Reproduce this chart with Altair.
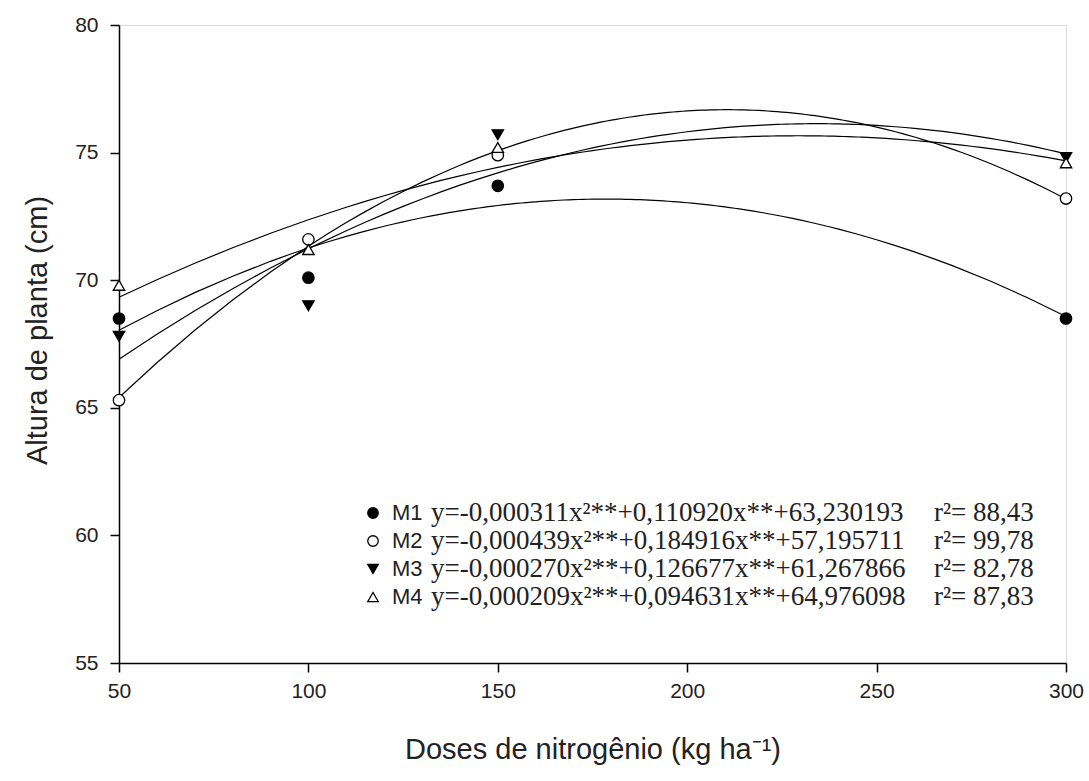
import altair as alt
import pandas as pd

doses = [50, 100, 150, 300]
series = ["M1", "M2", "M3", "M4"]
m1 = [68.5, 70.1, 73.7, 68.5]
m2 = [65.3, 71.6, 74.9, 73.2]
m3 = [67.8, 69.0, 75.7, 74.8]
m4 = [69.8, 71.2, 75.2, 74.6]
equations = [
    "y=-0,000311x²**+0,110920x**+63,230193",
    "y=-0,000439x²**+0,184916x**+57,195711",
    "y=-0,000270x²**+0,126677x**+61,267866",
    "y=-0,000209x²**+0,094631x**+64,976098",
]
r2 = ["r²= 88,43", "r²= 99,78", "r²= 82,78", "r²= 87,83"]
x_ticks = [50, 100, 150, 200, 250, 300]
y_ticks = [55, 60, 65, 70, 75, 80]

rows = []
for s, vals in zip(series, [m1, m2, m3, m4]):
    for d, v in zip(doses, vals):
        rows.append({"serie": s, "dose": d, "altura": v})
df = pd.DataFrame(rows)

leg = pd.DataFrame({"serie": series, "row": [0, 1, 2, 3], "eq": equations, "r2": r2})

SANS = "Liberation Sans"
SERIF = "Liberation Serif"

shape_scale = alt.Scale(domain=series, range=["circle", "circle", "triangle-down", "triangle-up"])
fill_scale = alt.Scale(domain=series, range=["black", "white", "black", "white"])

x_enc = alt.X("dose:Q", scale=alt.Scale(domain=[50, 300], nice=False, zero=False),
              axis=alt.Axis(values=x_ticks, title="Doses de nitrogênio (kg ha⁻¹)", grid=False,
                            domainColor="black", domainWidth=1.5, tickColor="black", tickWidth=1.5,
                            tickSize=9, labelPadding=8, labelFont=SANS, labelFontSize=21,
                            labelColor="#222", titleFont=SANS, titleFontSize=29,
                            titleFontWeight="normal", titleColor="#222", titlePadding=34,
                            labelFlush=False))
y_enc = alt.Y("altura:Q", scale=alt.Scale(domain=[55, 80], nice=False, zero=False),
              axis=alt.Axis(values=y_ticks, title="Altura de planta (cm)", grid=False,
                            domainColor="black", domainWidth=1.5, tickColor="black", tickWidth=1.5,
                            tickSize=9, labelPadding=12, labelFont=SANS, labelFontSize=21,
                            labelColor="#222", titleFont=SANS, titleFontSize=29,
                            titleFontWeight="normal", titleColor="#222", titlePadding=22,
                            titleY=305, labelFlush=False))

lines = alt.Chart(df).transform_regression(
    "dose", "altura", method="poly", order=2, groupby=["serie"], extent=[50, 300]
).mark_line(color="black", strokeWidth=1.2).encode(x=x_enc, y=y_enc, detail="serie:N")

points = alt.Chart(df).mark_point(size=130, stroke="black", strokeWidth=1.3, opacity=1).encode(
    x=x_enc, y=y_enc,
    shape=alt.Shape("serie:N", scale=shape_scale, legend=None),
    fill=alt.Fill("serie:N", scale=fill_scale, legend=None),
)

main = alt.layer(lines, points)

ly = alt.Y("row:O", scale=alt.Scale(range=[488, 572], padding=0), axis=None)
leg_sym = alt.Chart(leg).mark_point(size=110, stroke="black", strokeWidth=1.3, opacity=1).encode(
    x=alt.value(254), y=ly,
    shape=alt.Shape("serie:N", scale=shape_scale, legend=None),
    fill=alt.Fill("serie:N", scale=fill_scale, legend=None),
)
leg_name = alt.Chart(leg).mark_text(align="left", baseline="middle", font=SANS, fontSize=22,
                                     color="#222").encode(x=alt.value(273), y=ly, text="serie:N")
leg_eq = alt.Chart(leg).mark_text(align="left", baseline="middle", font=SERIF, fontSize=27,
                                   color="#222").encode(x=alt.value(312), y=ly, text="eq:N")
leg_r2 = alt.Chart(leg).mark_text(align="left", baseline="middle", font=SERIF, fontSize=27,
                                   color="#222").encode(x=alt.value(815), y=ly, text="r2:N")
legend = alt.layer(leg_sym, leg_name, leg_eq, leg_r2)

chart = alt.layer(main, legend).resolve_scale(y="independent").properties(
    width=947, height=638,
    autosize=alt.AutoSizeParams(type="none"),
    padding={"left": 119, "top": 25, "right": 23, "bottom": 118},
).configure_view(stroke=None).configure(background="white")

chart.save("out.html", embed_options={"renderer": "svg", "actions": False})
